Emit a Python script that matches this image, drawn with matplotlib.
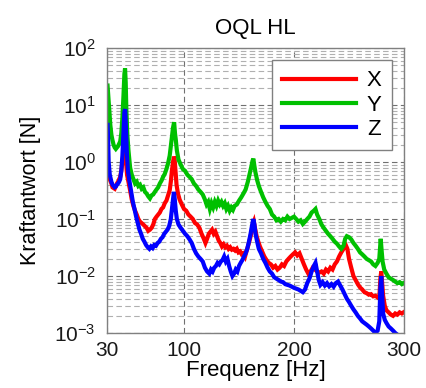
import matplotlib
matplotlib.use("Agg")
import matplotlib.pyplot as plt
from matplotlib.ticker import FixedLocator, LogLocator, NullFormatter

plt.rcParams['font.family'] = ['Liberation Sans', 'DejaVu Sans']
plt.rcParams['mathtext.fontset'] = 'custom'
plt.rcParams['mathtext.rm'] = 'Liberation Sans'
plt.rcParams['mathtext.default'] = 'regular'

title = "OQL HL"
xlabel = "Frequenz [Hz]"
ylabel = "Kraftantwort [N]"
series_names = ["X", "Y", "Z"]
x_ticks = [30, 100, 200, 300]

# X (red): frequency [Hz] and amplitude [N]
fx = [30.5, 31, 31.5, 32.5, 34, 35, 36, 37, 38, 39, 40, 41, 42, 43, 44, 45, 45.8, 46.5, 47.3, 48.2, 49.5,
      51, 52.5, 54, 55.5, 57, 58.5, 60, 61.5, 63, 64.5, 66, 67.5, 69, 70.5, 72, 73.5, 75, 76.5, 78, 79.5,
      81, 82.5, 84, 85.5, 87, 88, 89, 90, 90.8, 91.5, 92.3, 93.2, 94.5, 96, 98, 100, 102, 104, 106, 108,
      110, 112, 114, 116, 118, 119.5, 121, 122.5, 124, 125.5, 127, 128.5, 130, 131.5, 133, 134.5, 136,
      137.5, 139, 140.5, 142, 143.5, 145, 146.5, 148, 149.5, 151, 152.5, 154, 155.5, 157, 158.5, 160,
      161.5, 162.5, 163.5, 164.5, 166, 167.5, 169, 171, 173, 175, 177, 179, 181, 183, 185, 187, 189, 191,
      193, 195, 197, 199, 201, 203, 205, 207, 209, 211, 213, 215, 217, 219, 221, 223, 225, 227, 229, 231,
      233, 235, 237, 239, 241, 243, 245, 247, 248.5, 250, 252, 254, 256, 258, 260, 262, 264, 266, 268,
      270, 272, 274, 276, 277.5, 278.5, 279.3, 280, 281, 282.5, 284, 286, 288, 290, 292, 294, 296, 298,
      299.5]
vx = [1.2, 0.9, 0.6, 0.5, 0.42, 0.36, 0.35, 0.34, 0.38, 0.42, 0.45, 0.5, 0.55, 0.7, 1.0, 1.4, 1.6, 1.5,
      1.0, 0.6, 0.45, 0.32, 0.22, 0.17, 0.14, 0.12, 0.1, 0.09, 0.085, 0.08, 0.075, 0.07, 0.062, 0.065,
      0.07, 0.08, 0.1, 0.11, 0.12, 0.13, 0.15, 0.16, 0.19, 0.21, 0.26, 0.32, 0.45, 0.7, 1.0, 1.25, 1.1,
      0.7, 0.4, 0.28, 0.22, 0.18, 0.15, 0.14, 0.12, 0.11, 0.1, 0.085, 0.08, 0.07, 0.055, 0.045, 0.038,
      0.045, 0.055, 0.06, 0.065, 0.055, 0.06, 0.05, 0.042, 0.038, 0.033, 0.036, 0.032, 0.034, 0.03,
      0.032, 0.029, 0.03, 0.028, 0.03, 0.026, 0.027, 0.024, 0.025, 0.022, 0.028, 0.035, 0.045, 0.06,
      0.08, 0.09, 0.07, 0.05, 0.04, 0.033, 0.027, 0.022, 0.019, 0.017, 0.016, 0.014, 0.015, 0.013, 0.014,
      0.016, 0.015, 0.018, 0.02, 0.022, 0.024, 0.026, 0.023, 0.025, 0.02, 0.016, 0.013, 0.011, 0.012,
      0.014, 0.013, 0.012, 0.0115, 0.012, 0.011, 0.013, 0.012, 0.014, 0.013, 0.016, 0.018, 0.022, 0.026,
      0.03, 0.035, 0.03, 0.02, 0.014, 0.01, 0.0085, 0.0072, 0.0063, 0.0058, 0.0052, 0.005, 0.0047, 0.0048,
      0.0044, 0.0045, 0.0042, 0.004, 0.009, 0.012, 0.008, 0.0045, 0.003, 0.0025, 0.0023, 0.0021, 0.002,
      0.0022, 0.0021, 0.0023, 0.0022, 0.0023]

# Y (green)
fy = [30.5, 31, 31.5, 32, 33, 34, 35, 36, 37, 38, 39, 40, 41, 42, 43, 44, 45, 45.8, 46.4, 47, 47.6, 48.5,
      49.5, 51, 52.5, 54, 55.5, 57, 58.5, 60, 61.5, 63, 64.5, 66, 67.5, 69, 70.5, 72, 73.5, 75, 76.5, 78,
      79.5, 81, 82.5, 84, 85.5, 87, 88, 89, 90, 91, 91.8, 92.5, 93.5, 95, 97, 99, 101, 103, 105, 107, 109,
      111, 113, 115, 117, 119, 120.5, 122, 123.5, 125, 126.5, 128, 129.5, 131, 132.5, 134, 135.5, 137,
      138.5, 140, 141.5, 143, 144.5, 146, 148, 150, 152, 154, 156, 158, 159.5, 161, 162.3, 163, 164, 165,
      166.5, 168, 170, 172, 174, 176, 178, 180, 182, 184, 186, 188, 190, 192, 194, 196, 198, 200, 202,
      204, 206, 208, 210, 212, 214, 216, 218, 219.5, 221, 223, 225, 227, 229, 231, 233, 235, 237, 239,
      241, 243, 245, 246.5, 248, 250, 252, 254, 256, 258, 260, 262, 264, 266, 268, 270, 272, 274, 276,
      277.5, 278.8, 279.5, 280.5, 282, 284, 286, 288, 290, 292, 294, 296, 298, 299.5]
vy = [22, 16, 12, 8, 4.5, 3, 2.4, 2.0, 1.8, 1.7, 1.8, 1.9, 2.1, 2.3, 3.2, 6, 15, 35, 44, 25, 8, 3, 1.6, 0.8,
      0.6, 0.5, 0.42, 0.45, 0.38, 0.4, 0.34, 0.36, 0.3, 0.28, 0.25, 0.23, 0.26, 0.27, 0.3, 0.33, 0.36,
      0.42, 0.47, 0.55, 0.62, 0.75, 0.95, 1.3, 1.9, 2.8, 4.0, 5.0, 3.2, 2.5, 1.6, 1.1, 0.9, 0.75, 0.7,
      0.6, 0.55, 0.5, 0.42, 0.38, 0.33, 0.3, 0.27, 0.22, 0.18, 0.2, 0.15, 0.19, 0.16, 0.2, 0.17, 0.21,
      0.18, 0.2, 0.17, 0.19, 0.15, 0.17, 0.14, 0.16, 0.145, 0.17, 0.18, 0.21, 0.24, 0.28, 0.33, 0.45,
      0.6, 0.8, 1.05, 1.15, 0.85, 0.65, 0.48, 0.38, 0.3, 0.24, 0.2, 0.17, 0.15, 0.12, 0.11, 0.095, 0.1,
      0.09, 0.1, 0.095, 0.11, 0.1, 0.105, 0.11, 0.1, 0.09, 0.095, 0.082, 0.09, 0.1, 0.11, 0.13, 0.14,
      0.15, 0.12, 0.1, 0.08, 0.07, 0.062, 0.055, 0.05, 0.045, 0.04, 0.037, 0.033, 0.03, 0.034, 0.045,
      0.05, 0.048, 0.044, 0.038, 0.034, 0.03, 0.026, 0.024, 0.022, 0.02, 0.019, 0.018, 0.016, 0.015,
      0.017, 0.02, 0.045, 0.03, 0.018, 0.013, 0.011, 0.0095, 0.009, 0.0085, 0.008, 0.0075, 0.0078,
      0.0072, 0.0075]

# Z (blue)
fz = [30.5, 31, 31.5, 32.5, 34, 35, 36, 37, 38, 39, 40, 41, 42, 43, 44, 45, 45.8, 46.5, 47.2, 48, 49,
      50.5, 52, 53.5, 55, 56.5, 58, 59.5, 61, 62.5, 64, 65.5, 67, 68.5, 70, 71.5, 73, 74.5, 76, 77.5, 79,
      80.5, 82, 83.5, 85, 86.5, 88, 89, 90, 90.8, 91.6, 92.5, 93.5, 95, 97, 99, 101, 103, 105, 107, 109,
      111, 113, 115, 117, 119, 121, 123, 124.5, 126, 127.5, 129, 130.5, 132, 133.5, 135, 136.5, 138,
      139.5, 141, 142.5, 144, 145.5, 147, 148.5, 150, 151.5, 153, 154.5, 156, 157.5, 159, 160.5, 162,
      163, 164, 165, 166.5, 168, 170, 172, 174, 176, 178, 180, 182, 184, 186, 188, 190, 192, 194, 196,
      198, 200, 202, 204, 206, 208, 210, 212, 214, 216, 218, 219.5, 221, 222.5, 224, 226, 228, 230, 232,
      234, 236, 238, 240, 242, 244, 246, 248, 250, 252, 254, 256, 258, 260, 262, 264, 266, 268, 270, 272,
      274, 276, 277.5, 278.5, 279.3, 280, 281, 282.5, 284, 286, 288, 290, 292, 293.5]
vz = [4.5, 2.5, 1.0, 0.6, 0.45, 0.4, 0.38, 0.36, 0.37, 0.4, 0.42, 0.45, 0.5, 0.7, 1.3, 3.5, 7.5, 8.5, 4,
      1.5, 0.7, 0.45, 0.3, 0.2, 0.15, 0.11, 0.085, 0.065, 0.055, 0.045, 0.04, 0.035, 0.032, 0.03, 0.033,
      0.031, 0.035, 0.034, 0.038, 0.04, 0.045, 0.048, 0.055, 0.06, 0.065, 0.075, 0.1, 0.15, 0.22, 0.3,
      0.22, 0.14, 0.1, 0.08, 0.07, 0.062, 0.055, 0.05, 0.044, 0.038, 0.03, 0.025, 0.022, 0.02, 0.018,
      0.014, 0.012, 0.011, 0.013, 0.012, 0.014, 0.015, 0.017, 0.016, 0.018, 0.019, 0.022, 0.018, 0.02,
      0.015, 0.012, 0.01, 0.011, 0.013, 0.012, 0.015, 0.017, 0.019, 0.022, 0.025, 0.03, 0.04, 0.055,
      0.08, 0.1, 0.08, 0.055, 0.04, 0.03, 0.025, 0.02, 0.017, 0.014, 0.012, 0.011, 0.0095, 0.009, 0.0085,
      0.008, 0.0078, 0.0072, 0.007, 0.0068, 0.0065, 0.0062, 0.006, 0.0058, 0.0055, 0.0052, 0.0058,
      0.0075, 0.009, 0.012, 0.015, 0.017, 0.012, 0.0085, 0.007, 0.0078, 0.0068, 0.0075, 0.0066, 0.0072,
      0.0065, 0.0075, 0.008, 0.0068, 0.0058, 0.0048, 0.004, 0.0035, 0.003, 0.0026, 0.0023, 0.002,
      0.0018, 0.0016, 0.0015, 0.0014, 0.0013, 0.0012, 0.0011, 0.001, 0.0011, 0.0016, 0.006, 0.01, 0.005,
      0.0022, 0.0017, 0.0015, 0.0013, 0.0012, 0.0011, 0.001, 0.00095]

fig = plt.figure(figsize=(4.27, 3.88), dpi=100)
ax = fig.add_axes([0.2506, 0.1418, 0.6956, 0.7342])

lw = 3.0
ax.plot(fx, vx, color='#ff0000', lw=lw, label=series_names[0], solid_joinstyle='miter')
ax.plot(fy, vy, color='#00c000', lw=lw, label=series_names[1], solid_joinstyle='miter')
ax.plot(fz, vz, color='#0000ff', lw=lw, label=series_names[2], solid_joinstyle='miter')

ax.set_yscale('log')
ax.set_xlim(30, 300)
ax.set_ylim(1e-3, 1e2)
ax.xaxis.set_major_locator(FixedLocator(x_ticks))
ax.yaxis.set_major_locator(LogLocator(base=10, numticks=10))
ax.yaxis.set_minor_locator(LogLocator(base=10, subs=range(2, 10), numticks=20))
ax.yaxis.set_minor_formatter(NullFormatter())

ax.grid(True, which='major', linestyle=(0, (5, 3)), color='#707070', linewidth=0.8)
ax.grid(True, which='minor', axis='y', linestyle=(0, (5, 3)), color='#b0b0b0', linewidth=0.8)
ax.set_axisbelow(True)

for s in ax.spines.values():
    s.set_color('#808080')
    s.set_linewidth(1.0)
ax.tick_params(which='both', length=0, labelsize=15, colors='#1a1a1a')
ax.tick_params(axis='x', pad=6)
ax.tick_params(axis='y', pad=8)

ax.set_title(title, fontsize=16, pad=10)
ax.set_xlabel(xlabel, fontsize=16, labelpad=0)
ax.set_ylabel(ylabel, fontsize=15.5, labelpad=10)

leg = ax.legend(loc='upper right', fontsize=16, handlelength=3.3, fancybox=False,
                framealpha=1, edgecolor='#808080', borderaxespad=0.55, labelspacing=0.15,
                handletextpad=0.5, borderpad=0.45)
leg.get_frame().set_linewidth(1.0)
for line in leg.get_lines():
    line.set_linewidth(3.0)

fig.savefig('out.png', dpi=100)
